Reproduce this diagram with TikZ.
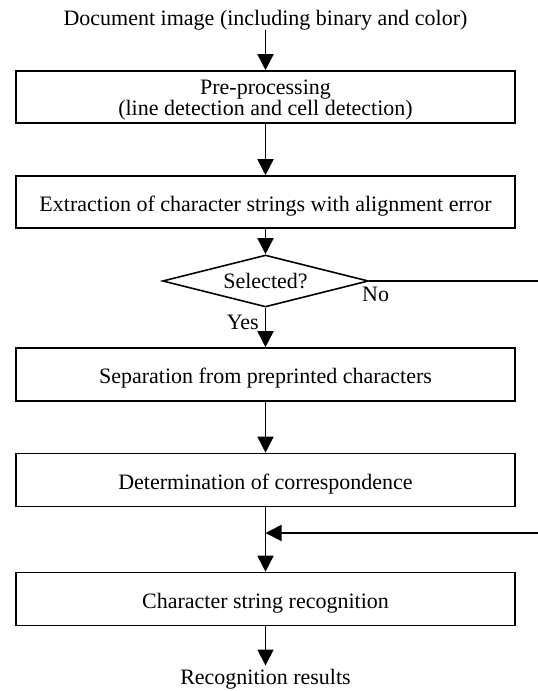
\documentclass[tikz,border=0pt]{standalone}
\usepackage{fontspec}
\setmainfont{Liberation Serif}
\usetikzlibrary{arrows.meta,shapes.geometric}
\begin{document}
\begin{tikzpicture}[x=1pt,y=-1pt,
  every node/.style={font=\fontsize{22}{21}\selectfont, inner sep=0pt},
  stepbox/.style={draw, line width=1.6pt, minimum width=499pt, minimum height=53pt,
    text height=18pt, text depth=0pt},
  decision/.style={draw, diamond, aspect=4, line width=1.6pt, minimum width=206pt, minimum height=52pt},
  flow/.style={line width=1.6pt, -{Triangle[length=16pt,width=16pt]}},
  plain/.style={line width=1.6pt}]
\useasboundingbox (0,0) rectangle (538,691);

% input and output texts
\node[anchor=base] (src) at (265.5,25) {Document image (including binary and color)};
\node[anchor=base] (res) at (265.5,684) {Recognition results};

% processing steps
\node[draw, line width=1.6pt, minimum width=499pt, minimum height=52pt] (pre) at (265.5,97) {};
\node[align=center] (pretext) at (265.5,100) {Pre-processing\\(line detection and cell detection)};
\node[stepbox, minimum height=52pt] (ext) at (265.5,202) {Extraction of character strings with alignment error};
\node[decision] (sel) at (265.5,281) {Selected?};
\node[stepbox] (sep) at (265.5,374.5) {Separation from preprinted characters};
\node[stepbox] (cor) at (265.5,480) {Determination of correspondence};
\node[stepbox] (rec) at (265.5,599) {Character string recognition};

% branch labels
\node[anchor=west] (no) at (362,294) {No};
\node[anchor=east] (yes) at (259,322) {Yes};

% off-page branch ends
\coordinate (noend) at (538,281);
\coordinate (fbstart) at (538,533);
\coordinate (join) at (265.5,533);

% connectors
\draw[flow] (src) -- (pre);
\draw[flow] (pre) -- (ext);
\draw[flow] (ext) -- (sel);
\draw[flow] (sel) -- (sep);
\draw[flow] (sep) -- (cor);
\draw[flow] (cor) -- (rec);
\draw[flow, shorten >=3pt] (rec) -- (res);
\draw[plain] (sel.east) -- (noend);
\draw[flow] (fbstart) -- (join);
\end{tikzpicture}
\end{document}
